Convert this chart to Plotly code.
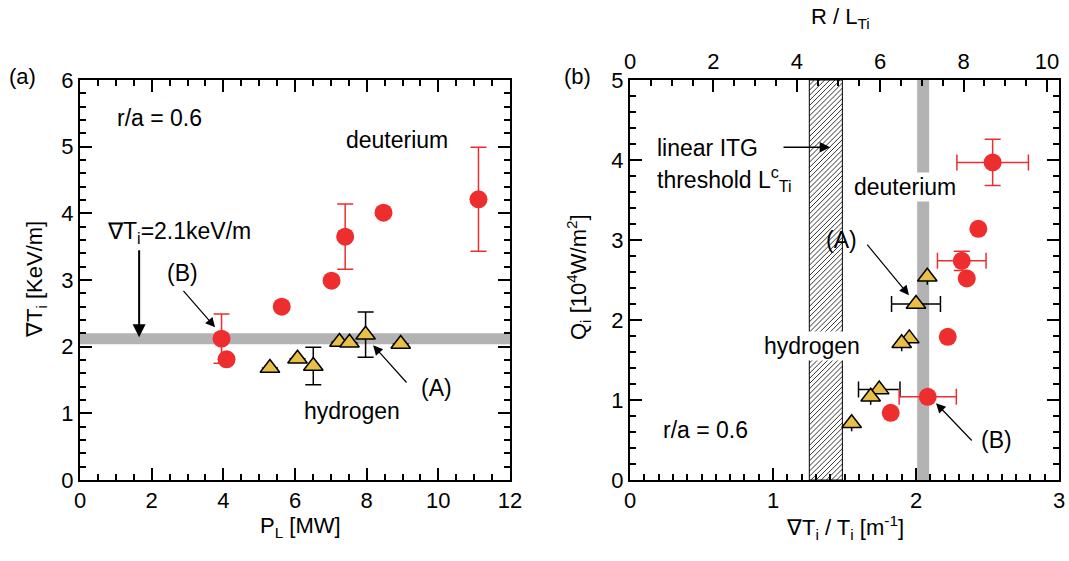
import plotly.graph_objects as go

# ---------------- data: panel (a) ----------------
PL_D = [3.95, 4.09, 5.63, 7.02, 7.40, 8.47, 11.12]
gradTi_D = [2.12, 1.81, 2.60, 2.99, 3.65, 4.01, 4.21]
gradTi_D_err = [0.37, None, None, None, 0.49, None, 0.78]
PL_H = [5.30, 6.07, 6.51, 7.24, 7.52, 7.97, 8.95]
gradTi_H = [1.68, 1.82, 1.71, 2.07, 2.06, 2.18, 2.04]
gradTi_H_err = [None, None, 0.28, None, None, 0.34, None]
grad_threshold = 2.12

# ---------------- data: panel (b) ----------------
ratio_D = [2.536, 2.436, 2.32, 2.355, 2.222, 2.082, 1.823]
Qi_D = [3.97, 3.14, 2.74, 2.52, 1.79, 1.04, 0.84]
ratio_D_err = [0.25, None, 0.17, None, None, 0.20, None]
Qi_D_err = [0.29, None, 0.12, None, None, None, None]
ratio_H = [2.079, 2.0, 1.953, 1.90, 1.743, 1.683, 1.55]
Qi_H = [2.54, 2.20, 1.77, 1.71, 1.13, 1.04, 0.71]
ratio_H_err = [None, 0.171, None, None, 0.145, None, None]
itg_band = [1.254, 1.485]
ratio_threshold = 2.05
R_major = 3.43

xa_range = [0, 12]
ya_range = [0, 6]
xb_range = [0, 3]
yb_range = [0, 5]

RED = "#EE2E2E"
GOLD = "#E8BF47"
GRAY = "#B3B3B3"
FONT = "Liberation Sans, Arial, sans-serif"

W, H = 1069, 561
fig = go.Figure()

fig.add_trace(go.Scatter(
    x=PL_H, y=gradTi_H, mode="markers", xaxis="x", yaxis="y",
    marker=dict(symbol="triangle-up", size=17, color=GOLD, line=dict(color="black", width=1.5)),
    error_y=dict(type="data", array=gradTi_H_err, color="black", thickness=1.5, width=8),
    showlegend=False))
fig.add_trace(go.Scatter(
    x=PL_D, y=gradTi_D, mode="markers", xaxis="x", yaxis="y",
    marker=dict(symbol="circle", size=18, color=RED),
    error_y=dict(type="data", array=gradTi_D_err, color=RED, thickness=1.5, width=8),
    showlegend=False))

# hatched ITG-threshold band: 45-degree hatch lines clipped to the band
slope = 1.7875      # data-y per data-x giving 45 degrees on screen
step = 0.036        # hatch spacing in data-x
hx, hy = [], []
c = itg_band[0] - yb_range[1] / slope
while c < itg_band[1]:
    xa = max(itg_band[0], c)
    xb = min(itg_band[1], c + yb_range[1] / slope)
    if xb > xa:
        hx += [xa, xb, None]
        hy += [slope * (xa - c), slope * (xb - c), None]
    c += step
fig.add_trace(go.Scatter(x=hx, y=hy, mode="lines", xaxis="x2", yaxis="y2",
                         line=dict(color="black", width=0.8), showlegend=False))
fig.add_trace(go.Scatter(
    x=[itg_band[0], itg_band[1], itg_band[1], itg_band[0], itg_band[0]],
    y=[yb_range[0], yb_range[0], yb_range[1], yb_range[1], yb_range[0]],
    mode="lines", xaxis="x2", yaxis="y2", line=dict(color="black", width=1), showlegend=False))

fig.add_trace(go.Scatter(
    x=ratio_H, y=Qi_H, mode="markers", xaxis="x2", yaxis="y2",
    marker=dict(symbol="triangle-up", size=17, color=GOLD, line=dict(color="black", width=1.5)),
    error_x=dict(type="data", array=ratio_H_err, color="black", thickness=1.5, width=8),
    showlegend=False))
fig.add_trace(go.Scatter(
    x=ratio_D, y=Qi_D, mode="markers", xaxis="x2", yaxis="y2",
    marker=dict(symbol="circle", size=18, color=RED),
    error_x=dict(type="data", array=ratio_D_err, color=RED, thickness=1.5, width=8),
    error_y=dict(type="data", array=Qi_D_err, color=RED, thickness=1.5, width=8),
    showlegend=False))
fig.add_trace(go.Scatter(x=[None], y=[None], xaxis="x3", yaxis="y2", showlegend=False))

fig.add_shape(type="line", xref="x domain", yref="y", x0=0, x1=1,
              y0=grad_threshold, y1=grad_threshold,
              line=dict(color=GRAY, width=11), layer="below")
fig.add_shape(type="line", xref="x2", yref="y2 domain", x0=ratio_threshold, x1=ratio_threshold,
              y0=0, y1=1, line=dict(color=GRAY, width=12), layer="below")

common = dict(showline=True, linewidth=2, linecolor="black", showgrid=False, zeroline=False,
              ticks="inside", ticklen=12, tickwidth=1.5, tickcolor="black", automargin=False,
              tickfont=dict(size=22, color="black"))

def minor(dt):
    return dict(dtick=dt, ticklen=6, ticks="inside")

xd_a = [80 / W, 510 / W]
xd_b = [630 / W, 1059 / W]
yd = [1 - 480 / H, 1 - 80 / H]

fig.update_layout(
    width=W, height=H, margin=dict(l=0, r=0, t=0, b=0),
    plot_bgcolor="white",
    font=dict(family=FONT, color="black"),
    xaxis=dict(domain=xd_a, anchor="y", range=xa_range, dtick=2, mirror="ticks",
               minor=minor(0.5), **common),
    yaxis=dict(domain=yd, anchor="x", range=ya_range, dtick=1, mirror="ticks",
               minor=minor(0.2), **common),
    xaxis2=dict(domain=xd_b, anchor="y2", range=xb_range, dtick=1, mirror=False,
                minor=minor(0.1), **common),
    xaxis3=dict(overlaying="x2", anchor="y2", side="top",
                range=[xb_range[0] * R_major, xb_range[1] * R_major],
                dtick=2, minor=minor(0.5), **common),
    yaxis2=dict(domain=yd, anchor="x2", range=yb_range, dtick=1, mirror="ticks",
                minor=minor(0.2), **common),
)

TF = dict(family=FONT, size=23, color="black")
ann = []
def txt(x, y, s, xref="x", yref="y", **kw):
    d = dict(x=x, y=y, text=s, xref=xref, yref=yref, showarrow=False, font=TF)
    d.update(kw)
    ann.append(d)

def arrow(x0, y0, x1, y1, xref="x", yref="y", width=1.2, size=1.6):
    ann.append(dict(x=x1, y=y1, ax=x0, ay=y0, xref=xref, yref=yref, axref=xref, ayref=yref,
                    text="", showarrow=True, arrowhead=2, arrowsize=size, arrowwidth=width,
                    arrowcolor="black"))

txt(2.23, 5.43, "r/a = 0.6")
txt(8.85, 5.10, "deuterium")
txt(0.70, 3.71, "∇T<sub>i</sub>=2.1keV/m", xanchor="left")
txt(2.85, 3.11, "(B)")
txt(9.94, 1.38, "(A)")
txt(7.60, 1.04, "hydrogen")
arrow(1.65, 3.47, 1.65, 2.14, width=2, size=1.3)
arrow(2.85, 2.86, 3.77, 2.29)
arrow(9.15, 1.44, 8.18, 2.02)

txt(0.175, 4.15, "linear ITG", xref="x2", yref="y2", xanchor="left")
txt(0.175, 3.76, "threshold L<sup>c</sup><sub>Ti</sub>", xref="x2", yref="y2", xanchor="left")
txt(1.923, 3.66, "deuterium", xref="x2", yref="y2", bgcolor="white")
txt(1.476, 3.00, "(A)", xref="x2", yref="y2")
txt(1.273, 1.675, "hydrogen", xref="x2", yref="y2", bgcolor="white")
txt(0.53, 0.625, "r/a = 0.6", xref="x2", yref="y2")
txt(2.56, 0.50, "(B)", xref="x2", yref="y2")
arrow(1.063, 4.16, 1.40, 4.16, xref="x2", yref="y2", width=1.5, size=1.4)
arrow(1.65, 2.96, 1.951, 2.31, xref="x2", yref="y2")
arrow(2.40, 0.475, 2.14, 0.96, xref="x2", yref="y2")

def ptxt(px, py, s, angle=0, size=22):
    ann.append(dict(x=px / W, y=1 - py / H, xref="paper", yref="paper", text=s, showarrow=False,
                    textangle=angle, font=dict(family=FONT, size=size, color="black"),
                    xanchor="center", yanchor="middle"))

ptxt(22, 77, "(a)")
ptxt(577, 77, "(b)")
ptxt(36, 280, "∇T<sub>i</sub> [KeV/m]", angle=-90)
ptxt(578, 277, "Q<sub>i</sub> [10<sup>4</sup>W/m<sup>2</sup>]", angle=-90)
ptxt(300, 527, "P<sub>L</sub> [MW]")
ptxt(845, 527, "∇T<sub>i</sub> / T<sub>i</sub> [m<sup>-1</sup>]")
ptxt(840, 18, "R / L<sub>Ti</sub>")

fig.update_layout(annotations=ann)
fig.write_html("out.html", post_script="document.body.style.margin='0px';",
               config={"displayModeBar": False})
